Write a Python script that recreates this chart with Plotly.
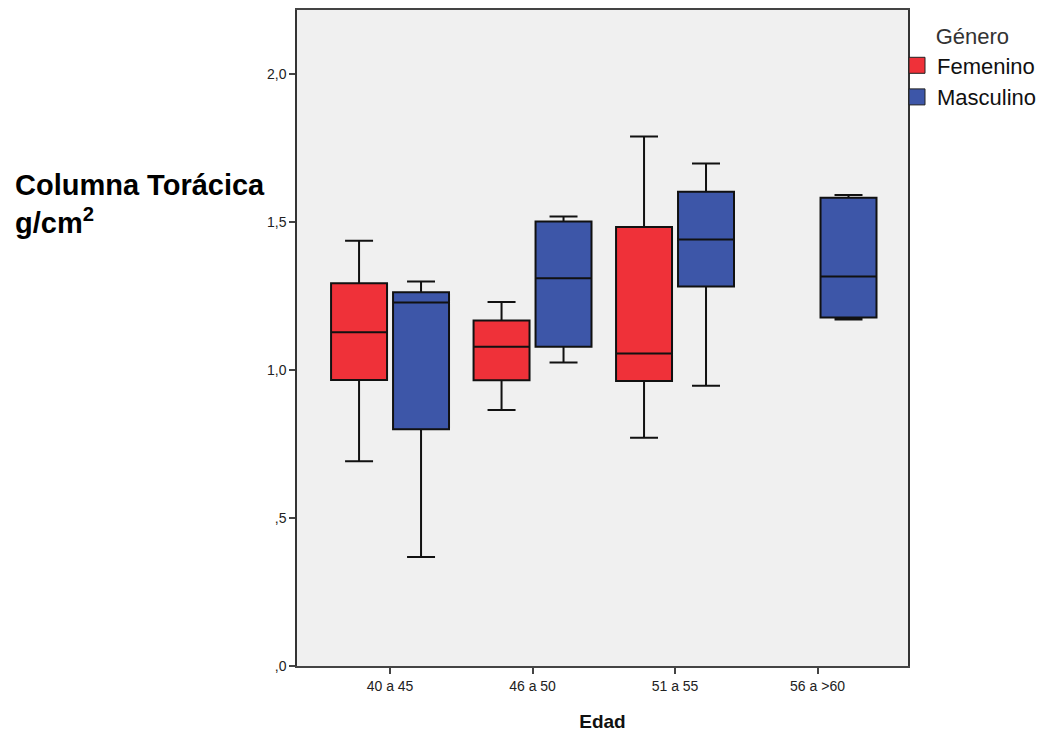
import plotly.graph_objects as go

categories = ["40 a 45", "46 a 50", "51 a 55", "56 a >60"]

# Femenino (no data for 56 a >60)
fem_cats = ["40 a 45", "46 a 50", "51 a 55"]
fem_lower = [0.691, 0.864, 0.771]
fem_q1 = [0.966, 0.965, 0.962]
fem_median = [1.127, 1.078, 1.055]
fem_q3 = [1.292, 1.167, 1.482]
fem_upper = [1.436, 1.229, 1.788]

# Masculino
mas_cats = ["40 a 45", "46 a 50", "51 a 55", "56 a >60"]
mas_lower = [0.368, 1.025, 0.946, 1.170]
mas_q1 = [0.799, 1.078, 1.281, 1.177]
mas_median = [1.227, 1.309, 1.440, 1.315]
mas_q3 = [1.262, 1.501, 1.601, 1.581]
mas_upper = [1.298, 1.518, 1.697, 1.590]

y_tickvals = [0, 0.5, 1.0, 1.5, 2.0]
y_ticktext = [",0", ",5", "1,0", "1,5", "2,0"]

RED = "#EF3139"
BLUE = "#3D56A8"
FONT = "Liberation Sans, Arial, sans-serif"

fig = go.Figure()
fig.add_trace(go.Box(
    name="Femenino", x=fem_cats, q1=fem_q1, median=fem_median, q3=fem_q3,
    lowerfence=fem_lower, upperfence=fem_upper, legendgroup="F", showlegend=False,
    fillcolor=RED, line=dict(color="#111111", width=2), whiskerwidth=0.5,
    boxpoints=False, hoverinfo="skip",
))
fig.add_trace(go.Box(
    name="Masculino", x=mas_cats, q1=mas_q1, median=mas_median, q3=mas_q3,
    lowerfence=mas_lower, upperfence=mas_upper, legendgroup="M", showlegend=False,
    fillcolor=BLUE, line=dict(color="#111111", width=2), whiskerwidth=0.5,
    boxpoints=False, hoverinfo="skip",
))
# legend swatches (square markers like the SPSS legend)
for nm, col, grp in [("Femenino", RED, "F"), ("Masculino", BLUE, "M")]:
    fig.add_trace(go.Scatter(
        name=nm, x=[categories[0]], y=[None], mode="markers", legendgroup=grp,
        marker=dict(symbol="square", size=16, color=col, line=dict(color="#222222", width=1)),
        hoverinfo="skip",
    ))

NB = "&nbsp;" * 6
fig.update_layout(
    width=1047, height=735,
    margin=dict(l=289, r=147, t=2, b=77, autoexpand=False),
    paper_bgcolor="white", plot_bgcolor="#F0F0F0",
    boxmode="group", boxgap=0.13, boxgroupgap=0.097,
    font=dict(family=FONT, color="#222222"),
    showlegend=True,
    legend=dict(
        x=0.982, xanchor="left", y=0.991, yanchor="top",
        title=dict(text=NB + "Género", font=dict(size=22, color="#333333")),
        font=dict(size=22, color="#111111"),
        itemwidth=30, tracegroupgap=0,
        bgcolor="rgba(0,0,0,0)",
    ),
    xaxis=dict(
        type="category", categoryorder="array", categoryarray=categories,
        range=[-0.653, 3.635],
        ticks="outside", ticklen=6, tickwidth=1.5, tickcolor="#444444",
        tickfont=dict(size=14, color="#222222"),
        showline=True, mirror=True, linecolor="#444444", linewidth=1.5,
        showgrid=False, zeroline=False,
        title=dict(text="<b>Edad</b>", font=dict(size=19, color="#111111"), standoff=22),
    ),
    yaxis=dict(
        range=[0, 2.215], tickvals=y_tickvals, ticktext=y_ticktext,
        ticks="outside", ticklen=6, tickwidth=1.5, tickcolor="#444444",
        tickfont=dict(size=14, color="#222222"),
        showline=True, mirror=True, linecolor="#333333", linewidth=1.5,
        showgrid=False, zeroline=False,
    ),
)

fig.add_annotation(
    text="<b>Columna Torácica</b><br><b>g/cm<sup>2</sup></b>",
    xref="paper", yref="paper", x=-0.465, y=0.705, xanchor="left", yanchor="middle",
    align="left", showarrow=False, font=dict(size=29, color="#000000", family=FONT),
)

fig.write_html("out.html")
